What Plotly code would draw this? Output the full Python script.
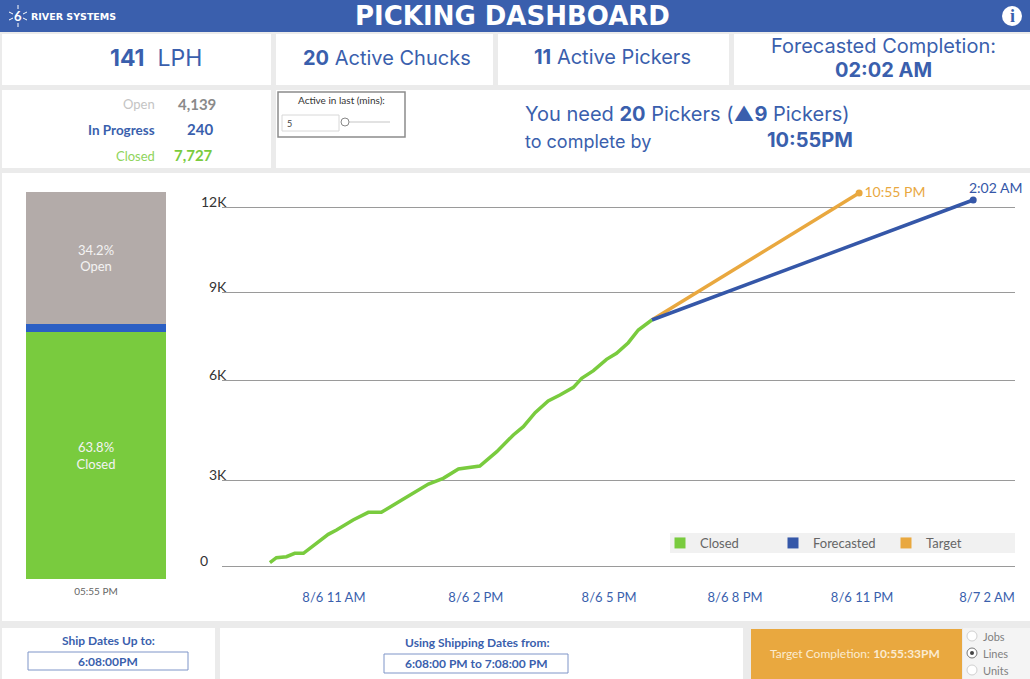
import plotly.graph_objects as go

W, H = 1030, 679
BLUE = "#3A5FAD"
FBLUE = "#3557A8"
GREEN = "#79CB3E"
ORANGE = "#E9A83F"
FONT = "Lato"
WIDE = "Inter"

# ---- stacked status bar
status_names = ["Closed", "In Progress", "Open"]
status_values = [7727, 240, 4139]
status_labels = ["63.8%<br>Closed", "", "34.2%<br>Open"]
status_colors = [GREEN, "#2B5FC4", "#B3ABA9"]
bar_category = ["05:55 PM"]

# ---- progress line (hours since 8/6 00:00)
closed_hours = [9.53, 9.68, 9.91, 10.10, 10.30, 10.56, 10.87, 11.06, 11.44, 11.79, 12.09,
                12.52, 12.82, 13.17, 13.51, 13.86, 14.35, 14.74, 15.12, 15.35, 15.62, 15.92,
                16.19, 16.50, 16.69, 16.96, 17.26, 17.49, 17.76, 17.99, 18.30]
closed_values = [112, 279, 312, 423, 423, 724, 1058, 1203, 1538, 1794, 1794,
                 2173, 2429, 2741, 2930, 3242, 3343, 3822, 4379, 4657, 5125, 5515,
                 5716, 5972, 6273, 6529, 6908, 7109, 7465, 7889, 8223]
forecast_hours = [18.30, 25.68]
forecast_values = [8223, 12234]
target_hours = [18.30, 23.06]
target_values = [8223, 12468]

x_tick_positions = [11, 14.26, 17.32, 20.21, 23.13, 26]
x_tick_labels = ["8/6 11 AM", "8/6 2 PM", "8/6 5 PM", "8/6 8 PM", "8/6 11 PM", "8/7 2 AM"]
y_tick_positions = [0, 2875, 6217, 9157, 12000]
y_tick_labels = ["0", "3K", "6K", "9K", "12K"]


def px(x):
    return x / W


def py(y):
    return 1 - y / H


shapes = []
annotations = []


def rect(x0, y0, x1, y1, fill="white", line=None, width=1):
    shapes.append(dict(type="rect", xref="paper", yref="paper", x0=px(x0), x1=px(x1),
                       y0=py(y0), y1=py(y1), fillcolor=fill, layer="below",
                       line=dict(color=line or fill, width=width if line else 0)))


def circle(cx, cy, r, fill="white", line=None, layer="below"):
    shapes.append(dict(type="circle", xref="paper", yref="paper", x0=px(cx - r), x1=px(cx + r),
                       y0=py(cy - r), y1=py(cy + r), fillcolor=fill, layer=layer,
                       line=dict(color=line or fill, width=1 if line else 0)))


def seg(x0, y0, x1, y1, color="white", width=1):
    shapes.append(dict(type="line", xref="paper", yref="paper", x0=px(x0), x1=px(x1),
                       y0=py(y0), y1=py(y1), layer="below", line=dict(color=color, width=width)))


def text(x, y, s, size=13, color=BLUE, anchor="center", family=FONT):
    annotations.append(dict(xref="paper", yref="paper", x=px(x), y=py(y), text=s, showarrow=False,
                            xanchor=anchor, yanchor="middle", align=anchor,
                            font=dict(size=size, color=color, family=family)))


# panels
rect(0, 0, 1030, 32, BLUE)
for a, b in [(2, 271), (276, 493), (498, 729), (734, 1030)]:
    rect(a, 34, b, 85)
rect(2, 90, 271, 168)
rect(276, 90, 1030, 168)
rect(2, 173, 1030, 621)
rect(2, 628, 215, 679)
rect(220, 628, 743, 679)
rect(751, 629, 962, 679, ORANGE)
rect(963, 628, 1030, 679, "#F4F4F4")
rect(670, 533, 1015, 553, "#F1F1F1")

# header
text(512, 16, "<b>PICKING DASHBOARD</b>", 26, "white", family="DejaVu Sans")
text(18, 16, "<b>6</b>", 13, "white")
for x0, y0, x1, y1 in [(18, 5, 18, 9), (18, 23, 18, 27), (9, 12, 13, 14), (9, 20, 13, 18),
                       (27, 12, 23, 14), (27, 20, 23, 18)]:
    seg(x0, y0, x1, y1)
text(29, 16, "<b>RIVER SYSTEMS</b>", 9.5, "white", "left", "DejaVu Sans")
circle(1012, 16, 10)
text(1012, 16, "<b>i</b>", 18, BLUE, family="Liberation Serif")

# KPIs
text(156, 58, "<b>141</b>  LPH", 23, family=WIDE)
text(387, 58, "<b>20</b> Active Chucks", 20, family=WIDE)
text(612, 57, "<b>11</b> Active Pickers", 20, family=WIDE)
text(883, 46, "Forecasted Completion:", 20, family=WIDE)
text(883, 70, "<b>02:02 AM</b>", 20, family=WIDE)

# status counts
text(157, 104, "Open", 13, "#C4C4C4", "right")
text(218, 104, "<b>4,139</b>", 15, "#8A8A8A", "right")
text(157, 130, "<b>In Progress</b>", 13.5, BLUE, "right")
text(215, 129, "<b>240</b>", 15, BLUE, "right")
text(157, 156, "Closed", 13, "#8FD45C", "right")
text(215, 155, "<b>7,727</b>", 15, "#7ACB3E", "right")

# filter box
rect(278, 92, 405, 137, "white", "#8C8C8C", 1.5)
text(341, 100, "Active in last (mins):", 10, "#333333")
rect(282, 115, 339, 131, "white", "#D8D8D8", 1)
text(285, 123, "5", 9, "#444444", "left")
rect(345, 121, 390, 123, "#E2E2E2")
circle(345, 122, 4, "white", "#888888")

# requirement text
text(523, 114, "You need <b>20</b> Pickers (<b>▲9</b> Pickers)", 20, BLUE, "left", WIDE)
text(523, 141, "to complete by", 18, BLUE, "left", WIDE)
text(855, 140, "<b>10:55PM</b>", 20, BLUE, "right", WIDE)

# footer
text(108, 640, "<b>Ship Dates Up to:</b>", 12)
rect(28, 652, 188, 670, "white", "#7F95C8", 1)
text(108, 661, "<b>6:08:00PM</b>", 12)
text(477, 642, "<b>Using Shipping Dates from:</b>", 12)
rect(384, 654, 568, 673, "white", "#7F95C8", 1)
text(476, 663, "<b>6:08:00 PM to 7:08:00 PM</b>", 12)
text(855, 653, "Target Completion: <b>10:55:33PM</b>", 12, "#FBEBD0")
for yy, lab, on in [(636, "Jobs", False), (653, "Lines", True), (670, "Units", False)]:
    circle(972, yy, 5, "white", "#D0D0D0" if not on else "#777777")
    if on:
        circle(972, yy, 2, "#444444")
    text(981, yy, lab, 11, "#808080", "left")

# value-axis labels sit above their gridlines
for v, lab in zip(y_tick_positions, y_tick_labels):
    annotations.append(dict(xref="paper", yref="y", x=px(229 if lab != "0" else 210), y=v, yshift=6,
                            text=lab, showarrow=False, xanchor="right", yanchor="middle",
                            font=dict(size=14, color="#333333", family=FONT)))

# forecast end label
annotations.append(dict(xref="x", yref="y", x=forecast_hours[-1], y=forecast_values[-1], xshift=-6, yshift=13,
                        text="2:02 AM", showarrow=False, xanchor="left", yanchor="middle",
                        font=dict(size=14, color=FBLUE, family=FONT)))

fig = go.Figure()

for name, val, lab, col in zip(status_names, status_values, status_labels, status_colors):
    fig.add_trace(go.Bar(x=bar_category, y=[val], name=name, marker=dict(color=col, line=dict(width=0)),
                         text=[lab], textposition="inside", insidetextanchor="middle", textangle=0,
                         textfont=dict(color="#F3F3F3", size=13, family=FONT),
                         xaxis="x2", yaxis="y2", showlegend=False, hoverinfo="skip"))

fig.add_trace(go.Scatter(x=target_hours, y=target_values, mode="lines", showlegend=False,
                         line=dict(color=ORANGE, width=3.5)))
fig.add_trace(go.Scatter(x=forecast_hours, y=forecast_values, mode="lines", showlegend=False,
                         line=dict(color=FBLUE, width=3.5)))
fig.add_trace(go.Scatter(x=closed_hours, y=closed_values, mode="lines", showlegend=False,
                         line=dict(color=GREEN, width=3.5)))
fig.add_trace(go.Scatter(x=target_hours[-1:], y=target_values[-1:], mode="markers+text", showlegend=False,
                         marker=dict(color=ORANGE, size=7), text=["10:55 PM"], textposition="middle right",
                         textfont=dict(color=ORANGE, size=14, family=FONT)))
fig.add_trace(go.Scatter(x=forecast_hours[-1:], y=forecast_values[-1:], mode="markers", showlegend=False,
                         marker=dict(color=FBLUE, size=7)))

# legend keys
for name, col in [("Closed", GREEN), ("Forecasted", FBLUE), ("Target", ORANGE)]:
    fig.add_trace(go.Scatter(x=[None], y=[None], mode="markers", name=name,
                             marker=dict(symbol="square", size=11, color=col)))

fig.update_layout(
    width=W, height=H, autosize=False,
    margin=dict(l=0, r=0, t=0, b=0, pad=0),
    paper_bgcolor="#EBEBEB", plot_bgcolor="rgba(0,0,0,0)",
    barmode="stack", bargap=0,
    shapes=shapes, annotations=annotations,
    font=dict(family=FONT),
    xaxis=dict(domain=[px(222), px(1015)], range=[8.43, 26.64], showgrid=False, zeroline=False,
               tickmode="array", tickvals=x_tick_positions, ticktext=x_tick_labels, ticks="",
               ticklabelstandoff=3,
               tickfont=dict(size=13, color=BLUE, family=FONT), anchor="y", showline=False),
    yaxis=dict(domain=[py(585), py(180)], range=[-635, 12903], showticklabels=False, zeroline=False,
               tickmode="array", tickvals=y_tick_positions, showgrid=True, gridcolor="#9A9A9A", gridwidth=1,
               anchor="x", ticks=""),
    xaxis2=dict(domain=[px(26), px(166)], anchor="y2", type="category", ticks="", showgrid=False,
                ticklabelstandoff=5,
                tickfont=dict(size=10, color="#666666", family=FONT)),
    yaxis2=dict(domain=[py(579), py(192)], range=[0, sum(status_values)], anchor="x2", visible=False),
    legend=dict(orientation="h", x=px(660), y=py(528), xanchor="left", yanchor="top",
                bgcolor="rgba(0,0,0,0)", entrywidth=68, entrywidthmode="pixels", itemclick=False,
                traceorder="normal", borderwidth=0,
                font=dict(size=13, color="#666666", family=FONT)),
    showlegend=True,
)

fig.write_html("out.html", config={"displayModeBar": False},
               post_script="document.body.style.margin='0';document.body.style.overflow='hidden';")
